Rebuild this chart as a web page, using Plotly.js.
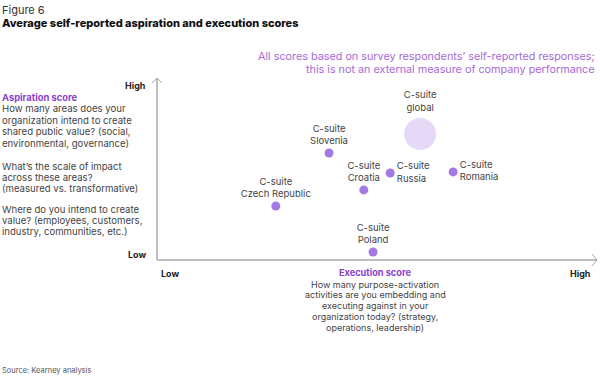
<!DOCTYPE html>
<html>
<head>
<meta charset="utf-8">
<script src="https://cdn.plot.ly/plotly-3.0.1.min.js"></script>
<style>html,body{margin:0;padding:0;background:#fff;}#chart{width:600px;height:376px;}</style>
</head>
<body>
<div id="chart"></div>
<script>
// ---- data ----
const groups = ["C-suite<br>Czech Republic", "C-suite<br>Slovenia", "C-suite<br>Croatia", "C-suite<br>Russia", "C-suite<br>Romania", "C-suite<br>Poland"];
const executionScore = [27.0, 39.1, 47.0, 53.0, 67.3, 49.1];
const aspirationScore = [29.7, 58.8, 38.5, 47.8, 48.4, 4.4];
const labelPositions = ["top center", "top center", "top center", "middle right", "middle right", "top center"];
const globalGroup = ["C-suite<br>global"];
const globalExecution = [59.8];
const globalAspiration = [69.2];

// ---- layout helpers (pixel -> paper) ----
const L = 157, R = 597, T = 78, B = 260;
const W = R - L, H = B - T;
const px = x => (x - L) / W;
const py = y => (B - y) / H;

const FONT = "Inter, 'Noto Sans', sans-serif";
const annotations = [];
function addText(text, x, y, o) {
  o = o || {};
  annotations.push({
    xref: 'paper', yref: 'paper', x: px(x), y: py(y),
    text: text, showarrow: false,
    xanchor: o.xanchor || 'left', yanchor: 'middle',
    font: {family: FONT, size: o.size || 9, color: o.color || '#444', weight: o.weight || 400}
  });
}
function addLines(lines, x, y0, step, o) {
  lines.forEach((t, i) => { if (t) addText(t, x, y0 + i * step, o); });
}

addText("Figure 6", 0, 10, {size: 11, color: '#333'});
addText("Average self-reported aspiration and execution scores", 0, 23, {size: 11, color: '#111', weight: 800});
addLines(["All scores based on survey respondents\u2019 self-reported responses;",
          "this is not an external measure of company performance"], 597, 56, 14,
         {xanchor: 'right', size: 10.8, color: '#a66ad8'});

addText("Aspiration score", 0, 97, {size: 9.4, color: '#8a3fd1', weight: 700});
const leftOpts = {size: 9.6, color: '#444'};
addLines(["How many areas does your", "organization intend to create", "shared public value? (social,",
          "environmental, governance)"], 0, 109, 11.4, leftOpts);
addLines(["What\u2019s the scale of impact", "across these areas?", "(measured vs. transformative)"], 0, 166, 11.4, leftOpts);
addLines(["Where do you intend to create", "value? (employees, customers,", "industry, communities, etc.)"], 0, 209, 11.4, leftOpts);

addText("<b>High</b>", 148, 86, {xanchor: 'right', size: 9, color: '#222'});
addText("<b>Low</b>", 148, 254, {xanchor: 'right', size: 9, color: '#222'});
addText("<b>Low</b>", 170, 273, {xanchor: 'center', size: 9, color: '#222'});
addText("<b>High</b>", 580, 273, {xanchor: 'center', size: 9, color: '#222'});

addText("Execution score", 375, 272, {xanchor: 'center', size: 9.2, color: '#8a3fd1', weight: 700});
addLines(["How many purpose-activation", "activities are you embedding and", "executing against in your",
          "organization today? (strategy,", "operations, leadership)"], 375, 284, 10.9,
         {xanchor: 'center', size: 9});

addText("Source: Kearney analysis", 0, 370, {size: 7.5, color: '#555'});

// axis lines and chevrons
const axisColor = '#a8a8a8';
const shapes = [
  {type: 'line', xref: 'paper', yref: 'paper', x0: 0, y0: 0, x1: 1, y1: 0, line: {color: axisColor, width: 1.5}},
  {type: 'line', xref: 'paper', yref: 'paper', x0: 0, y0: 0, x1: 0, y1: 1, line: {color: axisColor, width: 1.5}},
  {type: 'path', xref: 'paper', yref: 'paper',
   path: `M ${px(R - 5)} ${py(B - 6)} L ${px(R)} ${py(B)} L ${px(R - 5)} ${py(B + 6)}`,
   line: {color: axisColor, width: 1}},
  {type: 'path', xref: 'paper', yref: 'paper',
   path: `M ${px(L - 5)} ${py(T + 5)} L ${px(L)} ${py(T)} L ${px(L + 5)} ${py(T + 5)}`,
   line: {color: axisColor, width: 1}}
];

const traces = [
  {
    x: globalExecution, y: globalAspiration, text: globalGroup,
    mode: 'markers+text', type: 'scatter', textposition: 'top center',
    marker: {size: 32, color: '#e6d9f8'},
    textfont: {family: FONT, size: 9.5, color: '#444'},
    cliponaxis: false, hoverinfo: 'skip'
  },
  {
    x: executionScore, y: aspirationScore, text: groups,
    mode: 'markers+text', type: 'scatter', textposition: labelPositions,
    marker: {size: 9, color: '#a579e3'},
    textfont: {family: FONT, size: 9.5, color: '#444'},
    cliponaxis: false, hoverinfo: 'skip'
  }
];

const layout = {
  width: 600, height: 376,
  margin: {l: L, r: 600 - R, t: T, b: 376 - B, pad: 0},
  paper_bgcolor: '#fff', plot_bgcolor: '#fff',
  showlegend: false,
  xaxis: {range: [0, 100], showgrid: false, zeroline: false, showticklabels: false, showline: false, ticks: ''},
  yaxis: {range: [0, 100], showgrid: false, zeroline: false, showticklabels: false, showline: false, ticks: ''},
  annotations: annotations,
  shapes: shapes
};

Plotly.newPlot('chart', traces, layout, {displayModeBar: false, staticPlot: true});
</script>
</body>
</html>
